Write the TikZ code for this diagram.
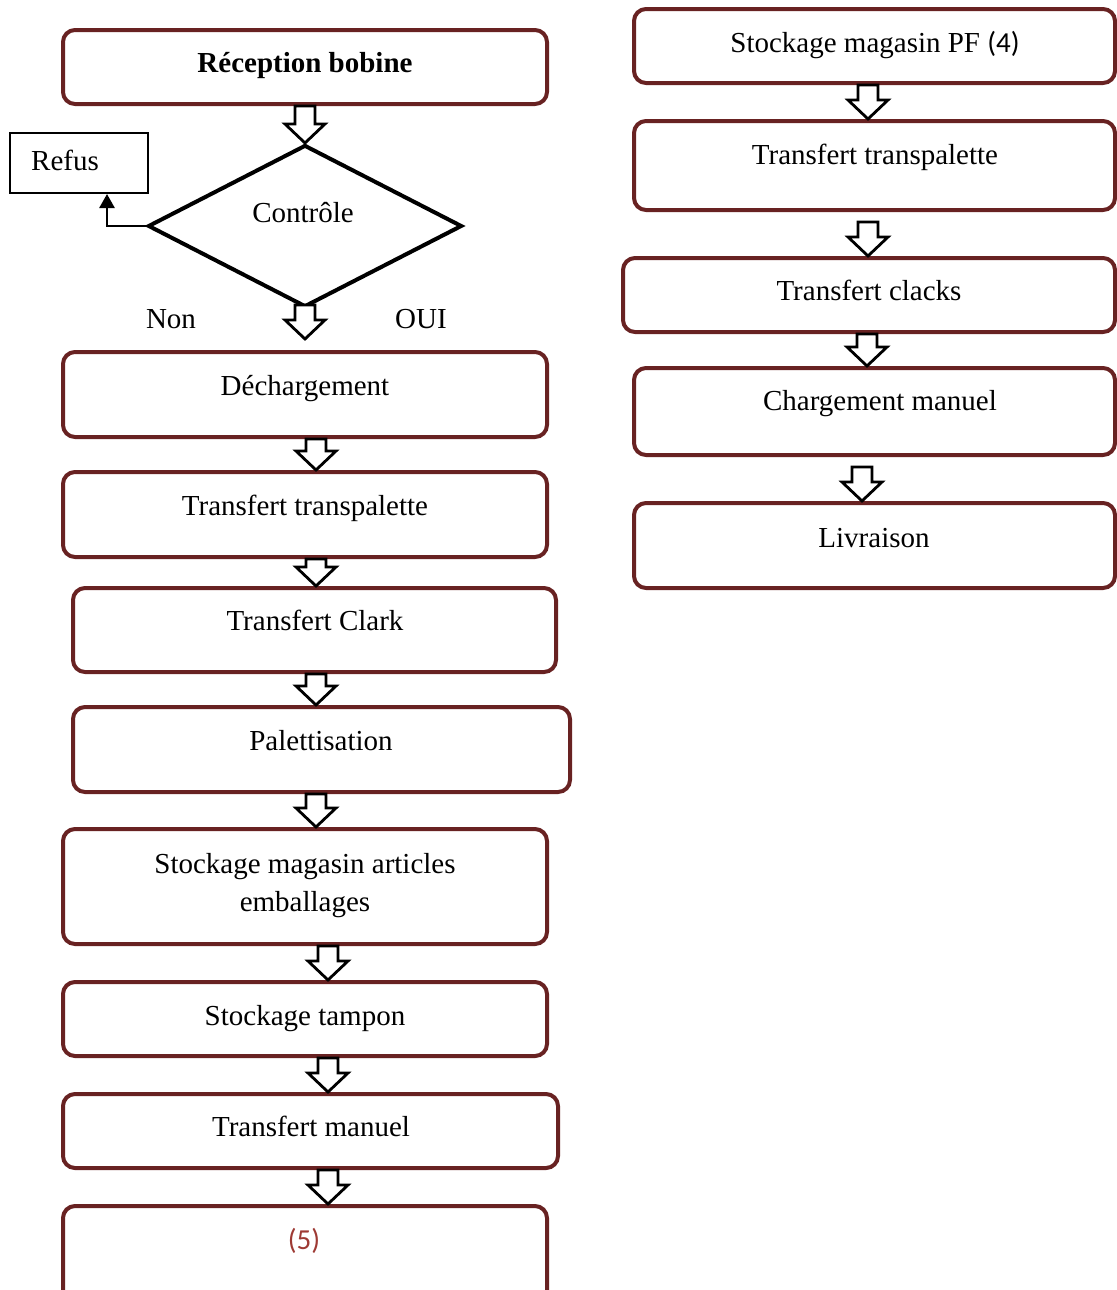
\documentclass[tikz,border=0pt]{standalone}
\usepackage{fontspec}
\setmainfont{Liberation Serif}
\newfontfamily\calibrifont{Carlito}
\usetikzlibrary{calc,fit,shapes.geometric,arrows.meta}

\definecolor{boxred}{RGB}{104,34,34}
\definecolor{numred}{RGB}{158,58,52}

% hollow block arrow pointing down: x, from, to, start gap, end gap
\newcommand\hollow[5]{%
  \draw[harrow] let \p0=(#1,0), \p1=(#2), \p2=(#3) in
    (\x0-5pt,\y1-#4) -- (\x0+5pt,\y1-#4) -- (\x0+5pt,\y2+#5+9.5pt)
    -- (\x0+10pt,\y2+#5+9.5pt) -- (\x0,\y2+#5) -- (\x0-10pt,\y2+#5+9.5pt)
    -- (\x0-5pt,\y2+#5+9.5pt) -- cycle;}

\begin{document}
\begin{tikzpicture}[x=0.5pt,y=-0.5pt,
  box/.style={draw=boxred,line width=2pt,rounded corners=6pt,inner sep=0pt},
  txt/.style={anchor=base,inner sep=0pt,font=\fontsize{14.5}{17}\selectfont},
  harrow/.style={draw=black,fill=white,line width=1.4pt,line join=miter}]
\useasboundingbox (0,0) rectangle (1117,1290);
\clip (0,0) rectangle (1117,1290);

% left column
\node[box,fit={(63,30) (547,104)}] (b1) {};
\node[draw,diamond,line width=2pt,inner sep=0pt,minimum width=157pt,minimum height=81pt] (d) at (305,226) {};
\node[draw,line width=1pt,inner sep=0pt,fit={(10,133) (148,193)}] (refus) {};
\node[box,fit={(63,352) (547,437)}] (b2) {};
\node[box,fit={(63,472) (547,557)}] (b3) {};
\node[box,fit={(73,588) (556,672)}] (b4) {};
\node[box,fit={(73,707) (570,792)}] (b5) {};
\node[box,fit={(63,829) (547,944)}] (b6) {};
\node[box,fit={(63,982) (547,1056)}] (b7) {};
\node[box,fit={(63,1094) (558,1168)}] (b8) {};
\node[box,fit={(63,1206) (547,1310)}] (b9) {};

% right column
\node[box,fit={(634,9) (1115,83)}] (r1) {};
\node[box,fit={(634,121) (1115,210)}] (r2) {};
\node[box,fit={(623,258) (1115,332)}] (r3) {};
\node[box,fit={(634,368) (1115,455)}] (r4) {};
\node[box,fit={(634,503) (1115,588)}] (r5) {};

% texts
\node[txt,font=\fontsize{14.5}{17}\selectfont\bfseries] (t1) at (305,72) {Réception bobine};
\node[txt] (tc) at (303,222) {Contrôle};
\node[txt] (tr) at (65,170) {Refus};
\node[txt] (tnon) at (171,328) {Non};
\node[txt] (toui) at (421,328) {OUI};
\node[txt] (t2) at (305,395) {Déchargement};
\node[txt] (t3) at (305,515) {Transfert transpalette};
\node[txt] (t4) at (315,630) {Transfert Clark};
\node[txt] (t5) at (321,750) {Palettisation};
\node[txt] (t6a) at (305,873) {Stockage magasin articles};
\node[txt] (t6b) at (305,911) {emballages};
\node[txt] (t7) at (305,1025) {Stockage tampon};
\node[txt] (t8) at (311,1136) {Transfert manuel};
\node[txt,text=numred,font=\fontsize{14.5}{17}\selectfont\calibrifont] (t9) at (304,1249) {(5)};
\node[txt] (u1) at (875,52) {Stockage magasin PF {\calibrifont(4)}};
\node[txt] (u2) at (875,164) {Transfert transpalette};
\node[txt] (u3) at (869,300) {Transfert clacks};
\node[txt] (u4) at (880,410) {Chargement manuel};
\node[txt] (u5) at (874,547) {Livraison};

% refusal branch
\draw[line width=1.3pt,-{Triangle[width=7.5pt,length=7pt]}] (d.west) -| ($(refus.south)+(28,0)$);

% flow arrows
\hollow{305}{b1.south}{d.north}{0pt}{0pt}
\hollow{305}{d.south}{b2.north}{-2pt}{5.5pt}
\hollow{316}{b2.south}{b3.north}{0pt}{0pt}
\hollow{316}{b3.south}{b4.north}{0pt}{0pt}
\hollow{316}{b4.south}{b5.north}{0pt}{0pt}
\hollow{316}{b5.south}{b6.north}{0pt}{0pt}
\hollow{328}{b6.south}{b7.north}{0pt}{0pt}
\hollow{328}{b7.south}{b8.north}{0pt}{0pt}
\hollow{328}{b8.south}{b9.north}{0pt}{0pt}
\hollow{868}{r1.south}{r2.north}{0pt}{0pt}
\hollow{868}{r2.south}{r3.north}{5pt}{0pt}
\hollow{867}{r3.south}{r4.north}{0pt}{0pt}
\hollow{862}{r4.south}{r5.north}{5pt}{0pt}
\end{tikzpicture}
\end{document}
